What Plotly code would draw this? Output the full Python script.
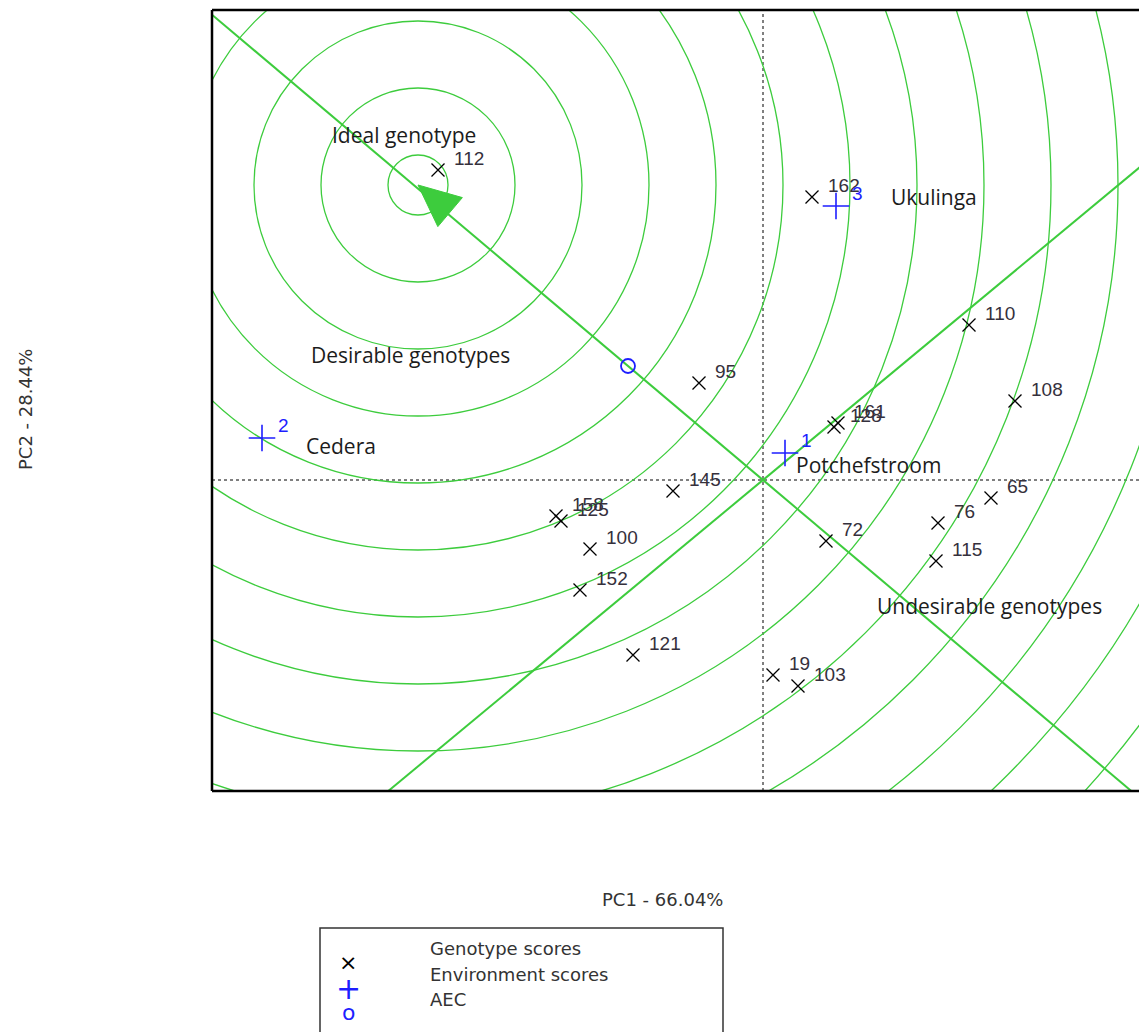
import plotly.graph_objects as go

# ---- genotype scores (PC1, PC2) ----
geno_ids = ["112", "162", "110", "95", "108", "161", "128", "145", "158", "125",
            "100", "152", "121", "72", "76", "65", "115", "19", "103"]
geno_pc1 = [-3.25, 0.49, 2.06, -0.64, 2.52, 0.75, 0.71, -0.90, -2.07, -2.02,
            -1.73, -1.83, -1.30, 0.63, 1.75, 2.28, 1.73, 0.10, 0.35]
geno_pc2 = [3.10, 2.83, 1.55, 0.97, 0.79, 0.57, 0.53, -0.11, -0.36, -0.41,
            -0.69, -1.10, -1.75, -0.61, -0.43, -0.18, -0.81, -1.95, -2.06]

# ---- environment scores ----
env_ids = ["1", "2", "3"]
env_pc1 = [0.22, -5.01, 0.73]
env_pc2 = [0.27, 0.42, 2.74]

# average environment coordinate and the ideal genotype point on its axis
aec_pc1, aec_pc2 = -1.35, 1.14
ideal_pc1, ideal_pc2 = -3.45, 2.95
# concentric distance rings around the ideal genotype
ring_radii = [0.30, 0.97, 1.64, 2.31, 2.98, 3.65, 4.32, 4.99, 5.66, 6.33,
              7.00, 7.67, 8.34, 9.01, 9.68]
# direction of the second axis line drawn through the origin
ordinate_dir = (1.0, 0.83)

# ---- text labels placed on the biplot ----
zone_text = ["Ideal genotype", "Desirable genotypes", "Cedera", "Ukulinga",
             "Potchefstroom", "Undesirable genotypes"]
zone_pc1 = [-3.59, -3.53, -4.22, 1.71, 1.05, 2.26]
zone_pc2 = [3.45, 1.25, 0.34, 2.83, 0.15, -1.26]

x_title = "PC1 - 66.04%"
y_title = "PC2 - 28.44%"
legend_labels = ["Genotype scores", "Environment scores", "AEC"]

X_RANGE = [-5.51, 3.76]
Y_RANGE = [-3.11, 4.70]
GREEN = "#3dcc3d"
BLUE = "#1e1eff"
LABEL = "#35303c"

W, H = 1139, 1032
M_L, M_R, M_T, M_B = 212, 0, 10, 241
PW, PH = W - M_L - M_R, H - M_T - M_B


def px(xpix, ypix):
    """Figure pixel -> paper coordinates."""
    return (xpix - M_L) / PW, (M_T + PH - ypix) / PH


fig = go.Figure()
shapes = []
annotations = []

# rings
for r in ring_radii:
    shapes.append(dict(type="circle", xref="x", yref="y",
                       x0=ideal_pc1 - r, x1=ideal_pc1 + r,
                       y0=ideal_pc2 - r, y1=ideal_pc2 + r,
                       line=dict(color=GREEN, width=1.3), layer="below"))

# average environment axis through origin and AEC point
k = 20
shapes.append(dict(type="line", xref="x", yref="y",
                   x0=-k * aec_pc1, y0=-k * aec_pc2, x1=k * aec_pc1, y1=k * aec_pc2,
                   line=dict(color=GREEN, width=2), layer="below"))
# second axis line through origin
shapes.append(dict(type="line", xref="x", yref="y",
                   x0=-k * ordinate_dir[0], y0=-k * ordinate_dir[1],
                   x1=k * ordinate_dir[0], y1=k * ordinate_dir[1],
                   line=dict(color=GREEN, width=2), layer="below"))

# dotted origin axes
shapes.append(dict(type="line", xref="x", yref="paper", x0=0, x1=0, y0=0, y1=1,
                   line=dict(color="black", width=1, dash="dot"), layer="below"))
shapes.append(dict(type="line", xref="paper", yref="y", x0=0, x1=1, y0=0, y1=0,
                   line=dict(color="black", width=1, dash="dot"), layer="below"))

# frame (left, top, bottom)
for seg in [(0, 0, 0, 1), (0, 1, 1, 1), (0, 0, 1, 0)]:
    shapes.append(dict(type="line", xref="paper", yref="paper",
                       x0=seg[0], y0=seg[1], x1=seg[2], y1=seg[3],
                       line=dict(color="black", width=2.5)))

# arrow head pointing at the ideal genotype
ux, uy = -aec_pc1, -aec_pc2
norm = (ux ** 2 + uy ** 2) ** 0.5
ux, uy = ux / norm, uy / norm
head_len, head_half = 0.42, 0.19
bx, by = ideal_pc1 + head_len * ux, ideal_pc2 + head_len * uy
tri_x = [ideal_pc1, bx - head_half * uy, bx + head_half * uy, ideal_pc1]
tri_y = [ideal_pc2, by + head_half * ux, by - head_half * ux, ideal_pc2]
fig.add_trace(go.Scatter(x=tri_x, y=tri_y, mode="lines", fill="toself",
                         fillcolor=GREEN, line=dict(color=GREEN, width=1),
                         hoverinfo="skip", showlegend=False))

# genotype markers
fig.add_trace(go.Scatter(x=geno_pc1, y=geno_pc2, mode="markers",
                         marker=dict(symbol="x-thin", size=13, color="black",
                                     line=dict(color="black", width=1.3)),
                         showlegend=False))
# environment markers
fig.add_trace(go.Scatter(x=env_pc1, y=env_pc2, mode="markers",
                         marker=dict(symbol="cross-thin", size=19, color=BLUE,
                                     line=dict(color=BLUE, width=1.6)),
                         showlegend=False))
# AEC marker
fig.add_trace(go.Scatter(x=[aec_pc1], y=[aec_pc2], mode="markers",
                         marker=dict(symbol="circle-open", size=14, color=BLUE,
                                     line=dict(color=BLUE, width=1.8)),
                         showlegend=False))

# point labels
for gx, gy, gid in zip(geno_pc1, geno_pc2, geno_ids):
    annotations.append(dict(x=gx, y=gy, xref="x", yref="y", text=gid,
                            showarrow=False, xanchor="left", yanchor="middle",
                            xshift=14, yshift=12,
                            font=dict(family="Liberation Sans", size=19, color=LABEL)))
for ex, ey, eid in zip(env_pc1, env_pc2, env_ids):
    annotations.append(dict(x=ex, y=ey, xref="x", yref="y", text=eid,
                            showarrow=False, xanchor="left", yanchor="middle",
                            xshift=14, yshift=13,
                            font=dict(family="Liberation Sans", size=19, color=BLUE)))
for zx, zy, zt in zip(zone_pc1, zone_pc2, zone_text):
    annotations.append(dict(x=zx, y=zy, xref="x", yref="y", text=zt,
                            showarrow=False, xanchor="center", yanchor="middle",
                            font=dict(family="Open Sans", size=21, color="#1c1c1c")))

# axis titles
tx, ty = px(662, 900)
annotations.append(dict(x=tx, y=ty, xref="paper", yref="paper", text=x_title,
                        showarrow=False, xanchor="center", yanchor="middle",
                        font=dict(family="DejaVu Sans", size=18, color="#333333")))
tx, ty = px(25, 410)
annotations.append(dict(x=tx, y=ty, xref="paper", yref="paper", text=y_title,
                        showarrow=False, xanchor="center", yanchor="middle",
                        textangle=-90,
                        font=dict(family="DejaVu Sans", size=18, color="#333333")))

# legend box
x0, y0 = px(320, 928)
x1, y1 = px(723, 1060)
shapes.append(dict(type="rect", xref="paper", yref="paper",
                   x0=x0, y0=y1, x1=x1, y1=y0,
                   line=dict(color="#333333", width=1.5)))
legend_glyphs = [("×", "black", 962, 22), ("+", BLUE, 988, 30), ("o", BLUE, 1012, 22)]
for glyph, col, gy, gs in legend_glyphs:
    lx, ly = px(348, gy)
    annotations.append(dict(x=lx, y=ly, xref="paper", yref="paper", text=glyph,
                            showarrow=False, xanchor="center", yanchor="middle",
                            font=dict(family="DejaVu Sans", size=gs, color=col)))
for lab, ly_pix in zip(legend_labels, [948, 974, 999]):
    lx, ly = px(428, ly_pix)
    annotations.append(dict(x=lx, y=ly, xref="paper", yref="paper", text=lab,
                            showarrow=False, xanchor="left", yanchor="middle",
                            font=dict(family="DejaVu Sans", size=18, color="#333333")))

axis_style = dict(showgrid=False, zeroline=False, showticklabels=False,
                  ticks="", showline=False, fixedrange=True)
fig.update_layout(
    width=W, height=H,
    margin=dict(l=M_L, r=M_R, t=M_T, b=M_B, pad=0),
    paper_bgcolor="white", plot_bgcolor="white",
    xaxis=dict(range=X_RANGE, **axis_style),
    yaxis=dict(range=Y_RANGE, **axis_style),
    shapes=shapes, annotations=annotations,
    showlegend=False,
)

fig.write_html("out.html")
